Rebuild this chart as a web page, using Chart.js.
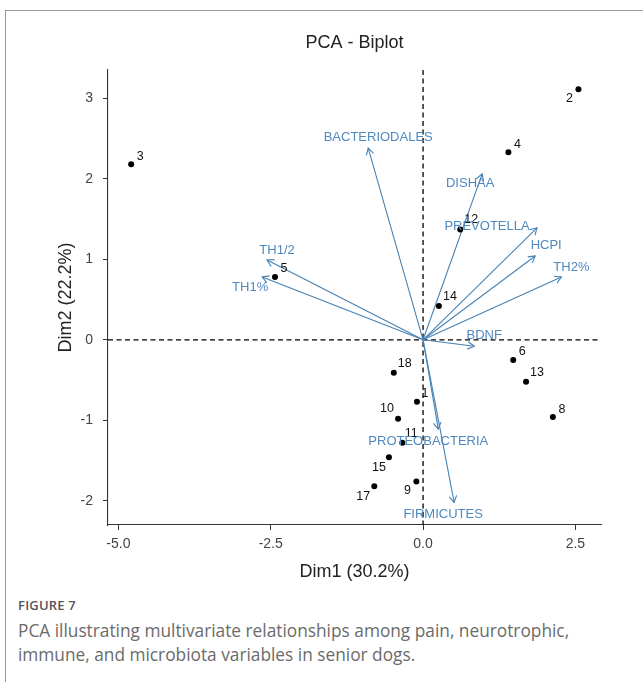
<!DOCTYPE html>
<html>
<head>
<meta charset="utf-8">
<script src="https://cdn.jsdelivr.net/npm/chart.js@4/dist/chart.umd.min.js"></script>
<style>
html,body{margin:0;padding:0;background:#fff;width:643px;height:682px;overflow:hidden;}
#frame{position:absolute;left:5px;top:10px;right:0;bottom:0;border-left:1px solid #9a9a9a;border-top:1px solid #9a9a9a;}
#wrap{position:absolute;left:0;top:0;width:643px;height:590px;}
#cap{position:absolute;left:18px;top:596px;font-family:"Open Sans",sans-serif;color:#6b6b6b;}
.fig{font-size:13px;font-weight:600;color:#555;letter-spacing:0.2px;line-height:18px;}
.txt{font-size:17.3px;line-height:24px;margin-top:5px;}
</style>
</head>
<body>
<div id="frame"></div>
<div id="wrap"><canvas id="c" width="643" height="590"></canvas></div>
<div id="cap">
  <div class="fig">FIGURE 7</div>
  <div class="txt">PCA illustrating multivariate relationships among pain, neurotrophic,<br>immune, and microbiota variables in senior dogs.</div>
</div>
<script>
// ---- data ----
const individuals = ['1','2','3','4','5','6','8','9','10','11','12','13','14','15','17','18'];
const indX = [-0.10, 2.55, -4.79, 1.40, -2.43, 1.48, 2.13, -0.11, -0.41, -0.34, 0.61, 1.69, 0.26, -0.56, -0.80, -0.48];
const indY = [-0.77, 3.11, 2.18, 2.33, 0.78, -0.25, -0.96, -1.76, -0.98, -1.28, 1.37, -0.52, 0.42, -1.46, -1.82, -0.41];

const variables = ['BACTERIODALES','DISHAA','PREVOTELLA','HCPI','TH2%','TH1/2','TH1%','BDNF','PROTEOBACTERIA','FIRMICUTES'];
const varX = [-0.90, 0.97, 1.87, 1.84, 2.27, -2.56, -2.64, 0.84, 0.25, 0.51];
const varY = [2.38, 2.06, 1.39, 1.04, 0.78, 0.99, 0.78, -0.08, -1.11, -2.02];

const xTicks = [-5.0, -2.5, 0.0, 2.5];
const yTicks = [-2, -1, 0, 1, 2, 3];

const chartTitle = 'PCA - Biplot';
const xTitle = 'Dim1 (30.2%)';
const yTitle = 'Dim2 (22.2%)';

// ---- label placement (style, pixels) ----
const indLabelOffset = {
  '1':[8,-8],'2':[-9,9],'3':[9,-8],'4':[9,-8],'5':[9,-8],'6':[9,-8],'8':[9,-8],
  '9':[-9,9],'10':[-11,-10],'11':[9,-9],'12':[11,-10],'13':[11,-9],'14':[11,-9],
  '15':[-10,10],'17':[-11,10],'18':[11,-9]
};
const varLabelOffset = {
  'BACTERIODALES':[10,-11],'DISHAA':[-12,10],'PREVOTELLA':[-50,-1],'HCPI':[11,-11],
  'TH2%':[10,-10],'TH1/2':[10,-10],'TH1%':[-12,10],'BDNF':[10,-11],
  'PROTEOBACTERIA':[-10,12],'FIRMICUTES':[-11,12]
};

const ARROW = '#4682B4';
const LABEL = '#5089BF';
const FONT = '"Liberation Sans", Arial, sans-serif';

const biplot = {
  id: 'biplot',
  beforeDatasetsDraw(chart) {
    const {ctx, chartArea: a, scales: {x, y}} = chart;
    ctx.save();
    ctx.strokeStyle = '#000'; ctx.lineWidth = 1.3; ctx.setLineDash([5, 3.5]);
    const x0 = x.getPixelForValue(0), y0 = y.getPixelForValue(0);
    ctx.beginPath();
    ctx.moveTo(x0, a.top); ctx.lineTo(x0, a.bottom);
    ctx.moveTo(a.left, y0); ctx.lineTo(a.right, y0);
    ctx.stroke();
    ctx.restore();
  },
  afterDatasetsDraw(chart) {
    const {ctx, chartArea: a, scales: {x, y}} = chart;
    ctx.save();
    // individual labels
    ctx.fillStyle = '#111';
    ctx.font = '12.5px ' + FONT;
    ctx.textAlign = 'center'; ctx.textBaseline = 'middle';
    individuals.forEach((lab, i) => {
      const o = indLabelOffset[lab] || [8, -8];
      ctx.fillText(lab, x.getPixelForValue(indX[i]) + o[0], y.getPixelForValue(indY[i]) + o[1]);
    });
    // arrowheads
    ctx.strokeStyle = ARROW; ctx.lineWidth = 1.1;
    const x0 = x.getPixelForValue(0), y0 = y.getPixelForValue(0);
    variables.forEach((v, i) => {
      const tx = x.getPixelForValue(varX[i]), ty = y.getPixelForValue(varY[i]);
      const ang = Math.atan2(ty - y0, tx - x0);
      const L = 7.5, w = Math.PI / 6;
      ctx.beginPath();
      ctx.moveTo(tx - L * Math.cos(ang - w), ty - L * Math.sin(ang - w));
      ctx.lineTo(tx, ty);
      ctx.lineTo(tx - L * Math.cos(ang + w), ty - L * Math.sin(ang + w));
      ctx.stroke();
    });
    // variable labels
    ctx.fillStyle = LABEL;
    ctx.font = '13px ' + FONT;
    variables.forEach((v, i) => {
      const o = varLabelOffset[v];
      ctx.fillText(v, x.getPixelForValue(varX[i]) + o[0], y.getPixelForValue(varY[i]) + o[1]);
    });
    // titles
    ctx.fillStyle = '#222';
    ctx.font = '18px ' + FONT;
    const cx = (a.left + a.right) / 2;
    ctx.fillText(chartTitle, cx, 43);
    ctx.fillText(xTitle, cx, 572);
    ctx.translate(66, (a.top + a.bottom) / 2);
    ctx.rotate(-Math.PI / 2);
    ctx.fillText(yTitle, 0, 0);
    ctx.restore();
  }
};

const datasets = [{
  type: 'scatter',
  data: individuals.map((l, i) => ({x: indX[i], y: indY[i]})),
  pointRadius: 3, pointBackgroundColor: '#000', pointBorderWidth: 0, showLine: false
}].concat(variables.map((v, i) => ({
  type: 'line',
  data: [{x: 0, y: 0}, {x: varX[i], y: varY[i]}],
  borderColor: ARROW, borderWidth: 1.1, pointRadius: 0, fill: false, tension: 0
})));

new Chart(document.getElementById('c'), {
  data: {datasets},
  options: {
    responsive: false, animation: false,
    layout: {padding: {left: 0, right: 42, top: 70, bottom: 0}},
    plugins: {legend: {display: false}, tooltip: {enabled: false}, title: {display: false}},
    scales: {
      x: {
        type: 'linear', min: -5.17, max: 2.92,
        afterFit: s => { s.height = 65; },
        afterBuildTicks: s => { s.ticks = xTicks.map(v => ({value: v})); },
        ticks: {callback: v => v.toFixed(1), color: '#444', font: {family: FONT, size: 14}, padding: 6, maxRotation: 0},
        grid: {drawOnChartArea: false, drawTicks: true, tickLength: 5, color: '#333'},
        border: {display: true, color: '#333', width: 1.1}
      },
      y: {
        type: 'linear', min: -2.30, max: 3.35,
        afterFit: s => { s.width = 108; },
        afterBuildTicks: s => { s.ticks = yTicks.map(v => ({value: v})); },
        ticks: {callback: v => String(v), color: '#444', font: {family: FONT, size: 14}, padding: 10},
        grid: {drawOnChartArea: false, drawTicks: true, tickLength: 5, color: '#333'},
        border: {display: true, color: '#333', width: 1.1}
      }
    }
  },
  plugins: [biplot]
});
</script>
</body>
</html>
